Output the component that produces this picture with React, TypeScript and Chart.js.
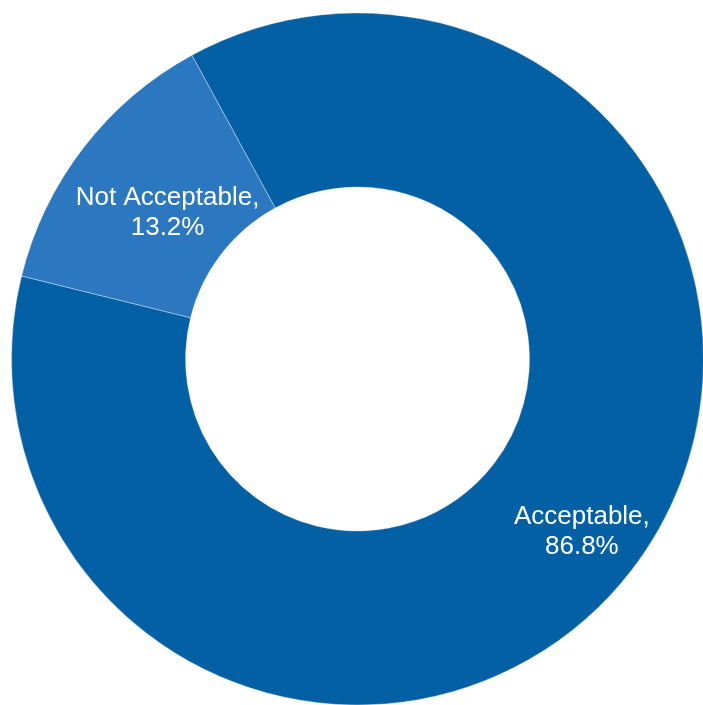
import React, { useEffect, useRef } from "react";
import { Chart, registerables } from "chart.js";

Chart.register(...registerables);

const categories = ["Acceptable", "Not Acceptable"];
const values = [86.8, 13.2];
const valueLabels = ["86.8%", "13.2%"];
const colors = ["#0360A4", "#2B78C0"];
const labelRadiusFraction = [0.64, 0.39];

const labelPlugin = {
  id: "sliceLabels",
  afterDatasetsDraw(chart: any) {
    const ctx = chart.ctx;
    const meta = chart.getDatasetMeta(0);
    ctx.save();
    ctx.fillStyle = "#ffffff";
    ctx.font = "26px 'Liberation Sans', Arial, sans-serif";
    ctx.textAlign = "center";
    ctx.textBaseline = "middle";
    meta.data.forEach((arc: any, i: number) => {
      const { x, y, startAngle, endAngle, innerRadius, outerRadius } = arc.getProps(
        ["x", "y", "startAngle", "endAngle", "innerRadius", "outerRadius"],
        true
      );
      const mid = (startAngle + endAngle) / 2;
      const r = innerRadius + (outerRadius - innerRadius) * labelRadiusFraction[i];
      const cx = x + Math.cos(mid) * r;
      const cy = y + Math.sin(mid) * r;
      const lh = 30;
      ctx.fillText(categories[i] + ",", cx, cy - lh / 2);
      ctx.fillText(valueLabels[i], cx, cy + lh / 2);
    });
    ctx.restore();
  },
};

export default function App() {
  const ref = useRef<HTMLCanvasElement | null>(null);
  useEffect(() => {
    if (!ref.current) return;
    const chart = new Chart(ref.current, {
      type: "doughnut",
      data: {
        labels: categories,
        datasets: [
          {
            data: values,
            backgroundColor: colors,
            borderColor: "rgba(255,255,255,0.35)",
            borderWidth: 1,
            hoverOffset: 0,
            clip: false,
          } as any,
        ],
      },
      options: {
        responsive: false,
        animation: false,
        rotation: -28.6,
        cutout: "49.7%",
        radius: 346,
        layout: { padding: { left: 12, top: 13, right: 0, bottom: 0 } },
        plugins: {
          legend: { display: false },
          tooltip: { enabled: false },
          title: { display: false },
        },
      } as any,
      plugins: [labelPlugin],
    });
    return () => chart.destroy();
  }, []);
  return (
    <div
      style={{
        position: "fixed",
        left: 0,
        top: 0,
        width: 703,
        height: 705,
        overflow: "hidden",
        background: "#ffffff",
      }}
    >
      <canvas ref={ref} width={703} height={705} style={{ display: "block", width: 703, height: 705 }} />
    </div>
  );
}
